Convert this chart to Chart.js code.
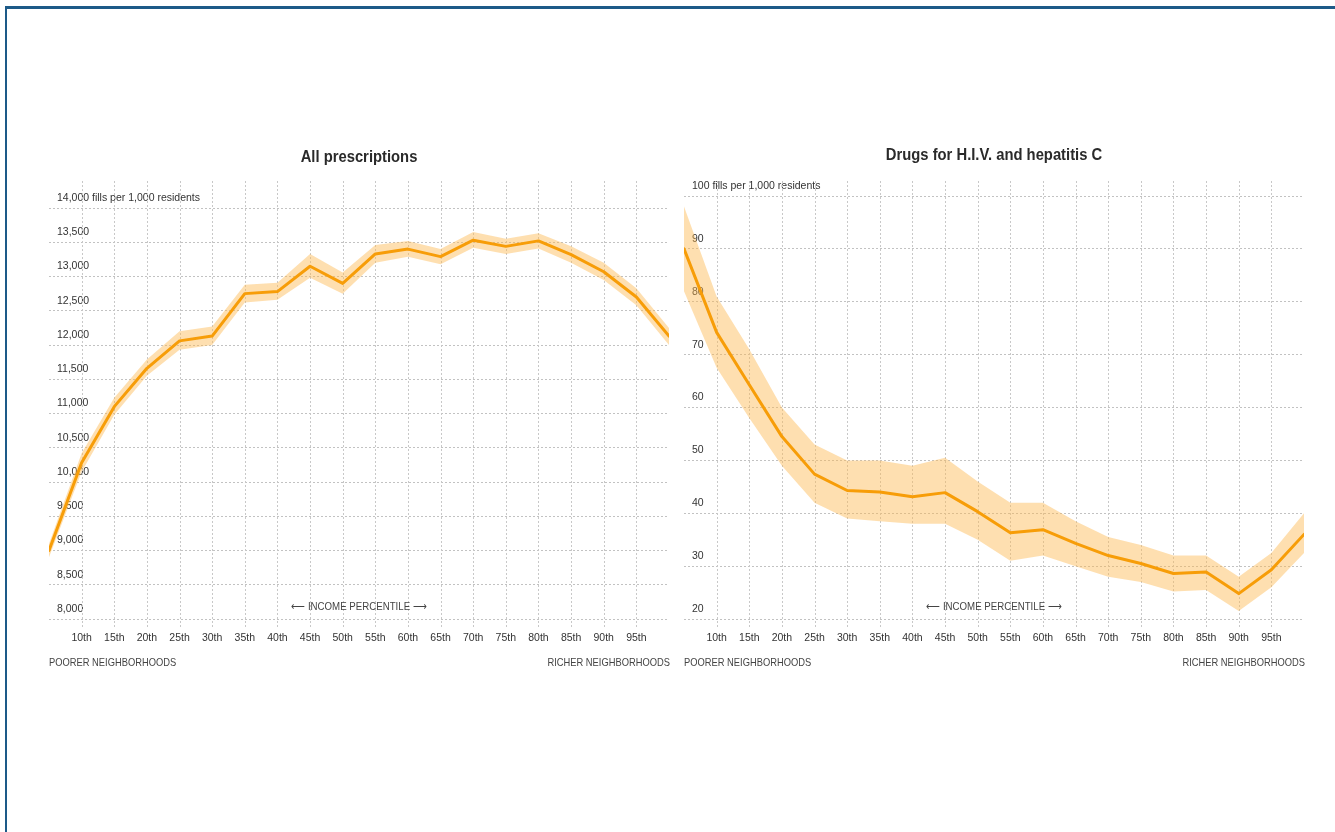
<!DOCTYPE html>
<html>
<head>
<meta charset="utf-8">
<script src="https://cdn.jsdelivr.net/npm/chart.js@4.4.1/dist/chart.umd.min.js"></script>
<style>
  html, body { margin: 0; padding: 0; background: #fff; }
  body { width: 1335px; height: 832px; position: relative; overflow: hidden; }
  .frame { position: absolute; left: 5px; top: 6px; right: 0; bottom: 0;
           border-top: 3px solid #1d5a88; border-left: 2px solid #1d5a88; }
  .panel { position: absolute; top: 130px; width: 640px; height: 560px; }
  #left { left: 40px; }
  #right { left: 675px; }
</style>
</head>
<body>
<div class="frame"></div>
<div class="panel" id="left"><canvas id="allRx" width="640" height="560"></canvas></div>
<div class="panel" id="right"><canvas id="hiv" width="640" height="560"></canvas></div>
<script>
// Neighborhood income percentile (x) for each data point
const percentiles = [5, 10, 15, 20, 25, 30, 35, 40, 45, 50, 55, 60, 65, 70, 75, 80, 85, 90, 95, 100];
const percentileTicks = [10, 15, 20, 25, 30, 35, 40, 45, 50, 55, 60, 65, 70, 75, 80, 85, 90, 95];

// All prescriptions: fills per 1,000 residents, with uncertainty band
const allRxValues = [9000, 10280, 11100, 11660, 12060, 12130, 12750, 12780, 13150, 12900,
                     13330, 13400, 13290, 13530, 13440, 13520, 13320, 13070, 12700, 12130];
const allRxLow    = [8900, 10150, 10980, 11550, 11930, 12000, 12620, 12660, 12980, 12750,
                     13200, 13290, 13180, 13420, 13330, 13410, 13200, 12950, 12580, 12000];
const allRxHigh   = [9100, 10420, 11230, 11790, 12200, 12270, 12880, 12910, 13330, 13060,
                     13460, 13520, 13400, 13650, 13550, 13630, 13440, 13200, 12830, 12250];
const allRxYTicks = [8000, 8500, 9000, 9500, 10000, 10500, 11000, 11500, 12000, 12500, 13000, 13500, 14000];

// Drugs for H.I.V. and hepatitis C: fills per 1,000 residents, with uncertainty band
const hivValues = [90, 74.2, 64.3, 54.5, 47.4, 44.3, 44.0, 43.1, 43.9, 40.3,
                   36.3, 36.9, 34.3, 32.0, 30.5, 28.6, 28.9, 24.8, 29.3, 36.0];
const hivLow    = [82, 67.5, 58, 49, 42, 39, 38.5, 38, 38, 35,
                   31, 32, 30, 28, 27, 25.2, 25.5, 21.5, 26, 32.5];
const hivHigh   = [98, 81, 71, 60, 53, 50, 50, 49, 50.5, 46,
                   42, 42, 38.5, 35.5, 34, 32, 32, 28, 32.5, 40];
const hivYTicks = [20, 30, 40, 50, 60, 70, 80, 90, 100];

const LINE = '#f79d08';
const BAND = 'rgba(252, 184, 80, 0.45)';
const TEXT = '#333';
const FONT = '"Liberation Sans", Arial, sans-serif';

const pts = (vals) => percentiles.map((p, i) => ({ x: p, y: vals[i] }));

// Draws text squeezed horizontally to a condensed look
function condensedText(ctx, text, x, y, align, squeeze) {
  ctx.save();
  ctx.translate(x, y);
  ctx.scale(squeeze, 1);
  ctx.textAlign = align;
  ctx.fillText(text, 0, 0);
  ctx.restore();
}

// Dotted vertical grid that runs a little past the plot, plus panel annotations
const decorations = {
  id: 'decorations',
  beforeDatasetsDraw(chart, args, opts) {
    const { ctx, chartArea, scales } = chart;
    ctx.save();
    ctx.strokeStyle = '#c8c8c8';
    ctx.lineWidth = 1;
    ctx.setLineDash([2, 2]);
    percentileTicks.forEach(v => {
      const x = Math.round(scales.x.getPixelForValue(v)) + 0.5;
      ctx.beginPath();
      ctx.moveTo(x, opts.gridTop);
      ctx.lineTo(x, chartArea.bottom + 8);
      ctx.stroke();
    });
    ctx.restore();
  },
  afterDraw(chart, args, opts) {
    const { ctx, chartArea } = chart;
    const cx = (chartArea.left + chartArea.right) / 2;
    ctx.save();
    ctx.textBaseline = 'middle';
    ctx.fillStyle = '#2a2a2a';
    ctx.font = 'bold 17px ' + FONT;
    condensedText(ctx, opts.title, cx, opts.titleY, 'center', 0.87);

    ctx.fillStyle = '#444';
    ctx.font = '11px ' + FONT;
    condensedText(ctx, '\u27F5 INCOME PERCENTILE \u27F6', cx, chartArea.bottom - 12, 'center', 0.88);
    condensedText(ctx, 'POORER NEIGHBORHOODS', chartArea.left, chartArea.bottom + 44, 'left', 0.85);
    condensedText(ctx, 'RICHER NEIGHBORHOODS', chartArea.right + 1, chartArea.bottom + 44, 'right', 0.85);
    ctx.restore();
  }
};

function makeChart(id, cfg) {
  const top = cfg.yTicks[cfg.yTicks.length - 1];
  return new Chart(document.getElementById(id), {
    type: 'line',
    data: {
      datasets: [
        { data: pts(cfg.values), borderColor: LINE, borderWidth: 3, pointRadius: 0,
          fill: false, tension: 0, borderJoinStyle: 'round', borderCapStyle: 'round' },
        { data: pts(cfg.high), borderWidth: 0, pointRadius: 0, backgroundColor: BAND,
          fill: '+1', tension: 0 },
        { data: pts(cfg.low), borderWidth: 0, pointRadius: 0, fill: false, tension: 0 }
      ]
    },
    options: {
      responsive: false,
      animation: false,
      events: [],
      layout: { padding: { left: 9, right: 11, top: cfg.padTop, bottom: 26 } },
      plugins: {
        legend: { display: false },
        tooltip: { enabled: false },
        decorations: { title: cfg.title, titleY: cfg.titleY, gridTop: 51 }
      },
      scales: {
        x: {
          type: 'linear',
          min: 5, max: 100,
          afterBuildTicks: (s) => { s.ticks = percentileTicks.map(v => ({ value: v })); },
          afterFit: (s) => { s.height = 45; },
          grid: { display: false, drawTicks: false },
          border: { display: false },
          ticks: {
            autoSkip: false, maxRotation: 0, padding: 13,
            color: TEXT, font: { family: FONT, size: 10.5 },
            callback: (v) => v + 'th'
          }
        },
        y: {
          min: cfg.yTicks[0], max: top,
          afterBuildTicks: (s) => { s.ticks = cfg.yTicks.map(v => ({ value: v })); },
          afterFit: (s) => { s.width = 0; },
          grid: { color: '#c2c2c2', lineWidth: 1, drawTicks: false, tickLength: 0 },
          border: { display: false, dash: [2, 2] },
          ticks: {
            mirror: true, padding: 8, labelOffset: -10,
            color: TEXT, font: { family: FONT, size: 10.5 },
            callback: (v) => {
              const s = Number(v).toLocaleString('en-US');
              return v === top ? s + ' fills per 1,000 residents' : s;
            }
          }
        }
      }
    },
    plugins: [decorations]
  });
}

makeChart('allRx', {
  title: 'All prescriptions', titleY: 27, padTop: 78,
  values: allRxValues, low: allRxLow, high: allRxHigh, yTicks: allRxYTicks
});
makeChart('hiv', {
  title: 'Drugs for H.I.V. and hepatitis C', titleY: 25, padTop: 66,
  values: hivValues, low: hivLow, high: hivHigh, yTicks: hivYTicks
});
</script>
</body>
</html>
